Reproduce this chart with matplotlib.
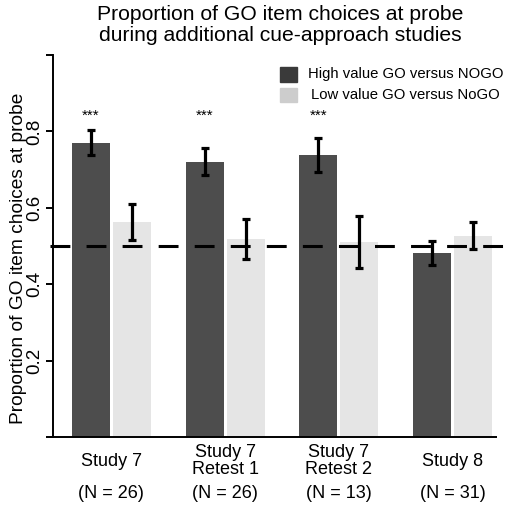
import matplotlib
matplotlib.use("Agg")
import matplotlib.pyplot as plt
import matplotlib.transforms as mtransforms
from matplotlib.patches import Rectangle
import numpy as np

plt.rcParams['font.family'] = ['Liberation Sans', 'DejaVu Sans']

# ---- data ----
studies = ["Study 7", "Study 7\nRetest 1", "Study 7\nRetest 2", "Study 8"]
n_labels = ["(N = 26)", "(N = 26)", "(N = 13)", "(N = 31)"]
high_mean = [0.770, 0.721, 0.739, 0.482]
high_err = [0.033, 0.036, 0.045, 0.032]
low_mean = [0.563, 0.518, 0.511, 0.527]
low_err = [0.047, 0.053, 0.068, 0.036]
stars = ["***", "***", "***", ""]
series_names = ["High value GO versus NOGO", "Low value GO versus NoGO"]
chance = 0.5
yticks = [0.0, 0.2, 0.4, 0.6, 0.8, 1.0]
yticklabels = ["", "0.2", "0.4", "0.6", "0.8", ""]

W, H = 506, 505
fig = plt.figure(figsize=(W / 100, H / 100), dpi=100)
ax = fig.add_axes([53 / W, (H - 437) / H, (W - 53) / W, (437 - 55) / H])

dark = "#4d4d4d"
light = "#e5e5e5"
period = 3.0
gap = 0.08
x_high = np.arange(len(studies)) * period
x_low = x_high + 1 + gap

ax.bar(x_high, high_mean, width=1.0, align='edge', color=dark, zorder=1)
ax.bar(x_low, low_mean, width=1.0, align='edge', color=light, zorder=1)

# chance line (drawn under error bars)
ax.plot([-0.58, 11.46], [chance, chance], color='black', lw=2.2,
        linestyle=(0, (6.5, 5.3)), clip_on=False, zorder=2,
        dash_capstyle='butt')

ax.errorbar(x_high + 0.5, high_mean, yerr=high_err, fmt='none', ecolor='black',
            elinewidth=2.3, capsize=2.8, capthick=2.3, zorder=3)
ax.errorbar(x_low + 0.5, low_mean, yerr=low_err, fmt='none', ecolor='black',
            elinewidth=2.3, capsize=2.8, capthick=2.3, zorder=3)

for xh, s in zip(x_high, stars):
    if s:
        ax.text(xh + 0.5, 0.84, s, ha='center', va='center', fontsize=11)

ax.set_xlim(-0.5, 11.45)
ax.set_ylim(0, 1)
for sp in ['top', 'right', 'bottom']:
    ax.spines[sp].set_visible(False)
ax.spines['left'].set_linewidth(1.4)
ax.spines['left'].set_bounds(0, 1)
ax.set_xticks([])
ax.set_yticks(yticks)
ax.set_yticklabels(yticklabels, rotation=90, va='center', fontsize=13.5)
ax.tick_params(axis='y', length=5, width=1.4, pad=2)

# bottom baseline
ax.plot([-0.58, 11.21], [0, 0], color='black', lw=1.4, clip_on=False,
        solid_capstyle='butt')

ax.set_ylabel("Proportion of GO item choices at probe", fontsize=13.8)
ax.yaxis.set_label_coords((27 - 53) / (W - 53), (437 - 258) / (437 - 55))

# x labels
trans = mtransforms.blended_transform_factory(ax.transData, fig.transFigure)
centers = x_high + 1 + gap / 2
for c, s, nl in zip(centers, studies, n_labels):
    ax.text(c, (H - 461) / H, s, transform=trans, ha='center', va='center',
            fontsize=13, linespacing=1.0)
    ax.text(c, (H - 494) / H, nl, transform=trans, ha='center', va='center',
            fontsize=13)

# title
fig.text(280 / W, (H - 25) / H,
         "Proportion of GO item choices at probe\nduring additional cue-approach studies",
         ha='center', va='center', fontsize=15.2, linespacing=1.1)

# legend (manual)
fig.patches.append(Rectangle((280 / W, (H - 82) / H), 17 / W, 15 / H,
                             transform=fig.transFigure, color="#3a3a3a"))
fig.patches.append(Rectangle((280 / W, (H - 102) / H), 17 / W, 14 / H,
                             transform=fig.transFigure, color="#cdcdcd"))
fig.text(308 / W, (H - 74) / H, series_names[0], ha='left', va='center', fontsize=10.7)
fig.text(311 / W, (H - 95) / H, series_names[1], ha='left', va='center', fontsize=10.7)

fig.savefig("out.png", dpi=100)
